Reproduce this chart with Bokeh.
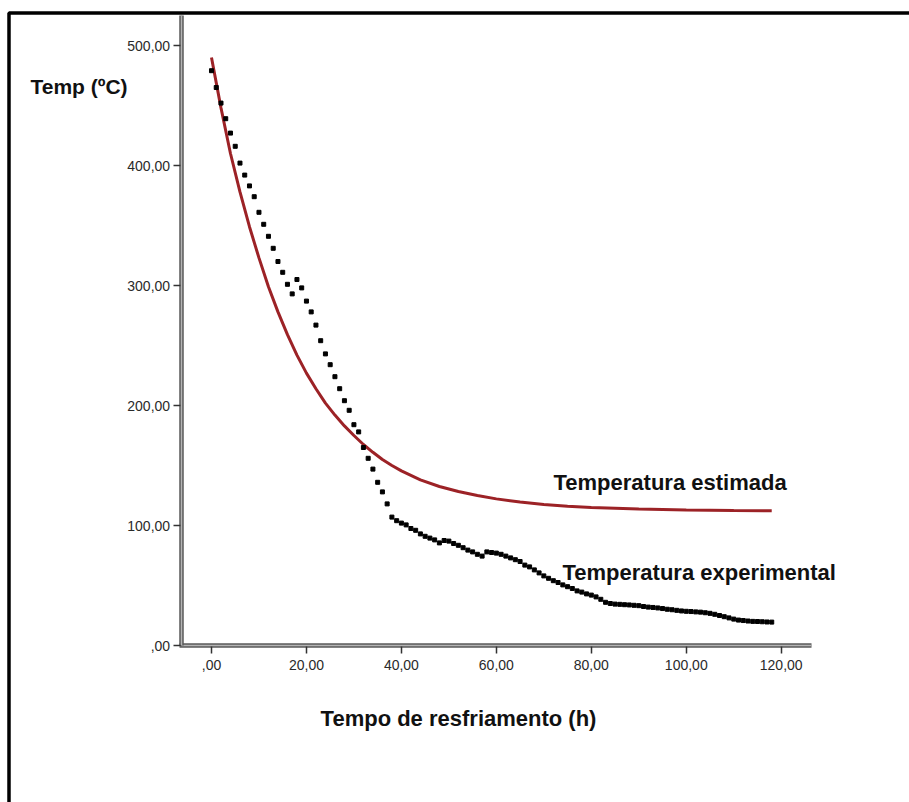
from bokeh.plotting import figure
from bokeh.models import (Label, FixedTicker, CustomJSTickFormatter, Range1d,
                          ColumnDataSource, LinearAxis, BoxAnnotation)
from bokeh.embed import file_html
from bokeh.resources import INLINE

# Experimental temperature (hourly readings, t = 0..118 h)
exp_time = list(range(0, 119))
exp_temp = [
    479, 465, 452, 439, 427, 416, 402, 392, 383, 374,
    361, 351, 341, 331, 320, 311, 301, 293, 305, 298,
    287, 278, 267, 254, 243, 234, 224, 214, 204, 196,
    184, 178, 165, 156, 147, 136, 128, 118, 107, 104,
    102, 100.5, 97.5, 96, 93, 91, 89.5, 88, 85.5, 87.5,
    87, 85, 83.5, 81.5, 79.5, 78, 76, 74.5, 78, 77.5,
    77, 76, 74.5, 73, 71.5, 70, 67, 65.5, 63, 60.5,
    58, 56, 54, 52.5, 50.5, 49, 47.5, 45.5, 44.5, 43,
    42, 40.5, 38.5, 36, 35, 34.5, 34.3, 34, 33.8, 33.5,
    33.2, 32.5, 32, 31.7, 31.3, 30.8, 30.2, 29.8, 29.3, 28.8,
    28.5, 28.3, 28, 27.8, 27.3, 26.8, 26, 25, 24, 23,
    22, 21.2, 20.8, 20.4, 20.1, 20, 19.8, 19.6, 19.5,
]

# Estimated temperature curve
est_time = [0, 2, 4, 6, 8, 10, 12, 14, 16, 18, 20, 22, 24, 26, 28, 30, 32, 34, 36, 38,
            40, 44, 48, 52, 56, 60, 65, 70, 75, 80, 90, 100, 110, 118]
est_temp = [490, 448, 410, 378, 349, 323, 299, 278, 259, 242, 227, 214, 202, 192, 183,
            175, 167.5, 161, 155, 150, 145.5, 138, 132.5, 128.3, 125, 122.2, 119.5,
            117.6, 116.1, 115.1, 113.7, 112.9, 112.5, 112.3]

x_ticks = [0, 20, 40, 60, 80, 100, 120]
y_ticks = [0, 100, 200, 300, 400, 500]

FONT = "Liberation Sans"

p = figure(width=909, height=802, output_backend="svg", toolbar_location=None,
           x_range=Range1d(-44.44, 147.02), y_range=Range1d(-130.83, 537.5),
           x_axis_type=None, y_axis_type=None,
           min_border_left=0, min_border_right=0, min_border_top=0, min_border_bottom=0)
p.outline_line_color = None
p.background_fill_color = "white"
p.border_fill_color = "white"

fmt = CustomJSTickFormatter(code="""
var s = tick.toFixed(2).replace('.', ',');
if (s.indexOf('0,') === 0) { s = s.substring(1); }
return s;
""")

X_BOUNDS = (-6.7, 126.4)
Y_BOUNDS = (0, 525)
X_AXIS_AT = 0
Y_AXIS_AT = -6.4


def make_axis(ticks, bounds, loc, main):
    ax = LinearAxis(ticker=FixedTicker(ticks=ticks), formatter=fmt, bounds=bounds,
                    fixed_location=loc)
    if main:
        ax.axis_line_color = "#5a5a5a"
        ax.axis_line_width = 4.5
        ax.major_tick_line_color = "#333333"
        ax.major_tick_line_width = 1.5
        ax.major_tick_in = 0
        ax.major_tick_out = 8
        ax.minor_tick_line_color = None
        ax.major_label_text_font = FONT
        ax.major_label_text_font_size = "14px"
        ax.major_label_text_color = "#2a2a2a"
    else:
        ax.axis_line_color = "#b4b4b4"
        ax.axis_line_width = 1.5
        ax.major_tick_line_color = None
        ax.minor_tick_line_color = None
        ax.major_label_text_font_size = "0px"
        ax.major_label_text_color = None
    return ax


xa = make_axis(x_ticks, X_BOUNDS, X_AXIS_AT, True)
xa.major_label_standoff = 6
ya = make_axis(y_ticks, Y_BOUNDS, Y_AXIS_AT, True)
ya.major_label_standoff = 3
p.add_layout(xa, "below")
p.add_layout(ya, "left")
p.add_layout(make_axis(x_ticks, X_BOUNDS, X_AXIS_AT, False), "below")
p.add_layout(make_axis(y_ticks, Y_BOUNDS, Y_AXIS_AT, False), "left")

# picture frame (top and left black rules)
p.add_layout(BoxAnnotation(left=-42.65, top=527.08, right=170, bottom=-200,
                           fill_color=None, fill_alpha=0, line_color="black",
                           line_alpha=1.0, line_width=3.5))

src_est = ColumnDataSource(dict(t=est_time, T=est_temp))
src_exp = ColumnDataSource(dict(t=exp_time, T=exp_temp))

p.line("t", "T", source=src_est, line_color="#9c2226", line_width=3)
p.scatter("t", "T", source=src_exp, marker="square", size=4, color="black")

p.add_layout(Label(x=-38.13, y=465.8, text="Temp (ºC)", text_font=FONT, text_font_style="bold",
                   text_font_size="21px", text_baseline="middle", text_align="left",
                   text_color="#111111"))
p.add_layout(Label(x=52.03, y=-60.83, text="Tempo de resfriamento (h)", text_font=FONT,
                   text_font_style="bold", text_font_size="22px", text_baseline="middle",
                   text_align="center", text_color="#111111"))
p.add_layout(Label(x=72.04, y=135.8, text="Temperatura estimada", text_font=FONT,
                   text_font_style="bold", text_font_size="22px", text_baseline="middle",
                   text_align="left", text_color="#111111"))
p.add_layout(Label(x=73.93, y=60.83, text="Temperatura experimental", text_font=FONT,
                   text_font_style="bold", text_font_size="22px", text_baseline="middle",
                   text_align="left", text_color="#111111"))

open("out.html", "w").write(file_html(p, INLINE))
